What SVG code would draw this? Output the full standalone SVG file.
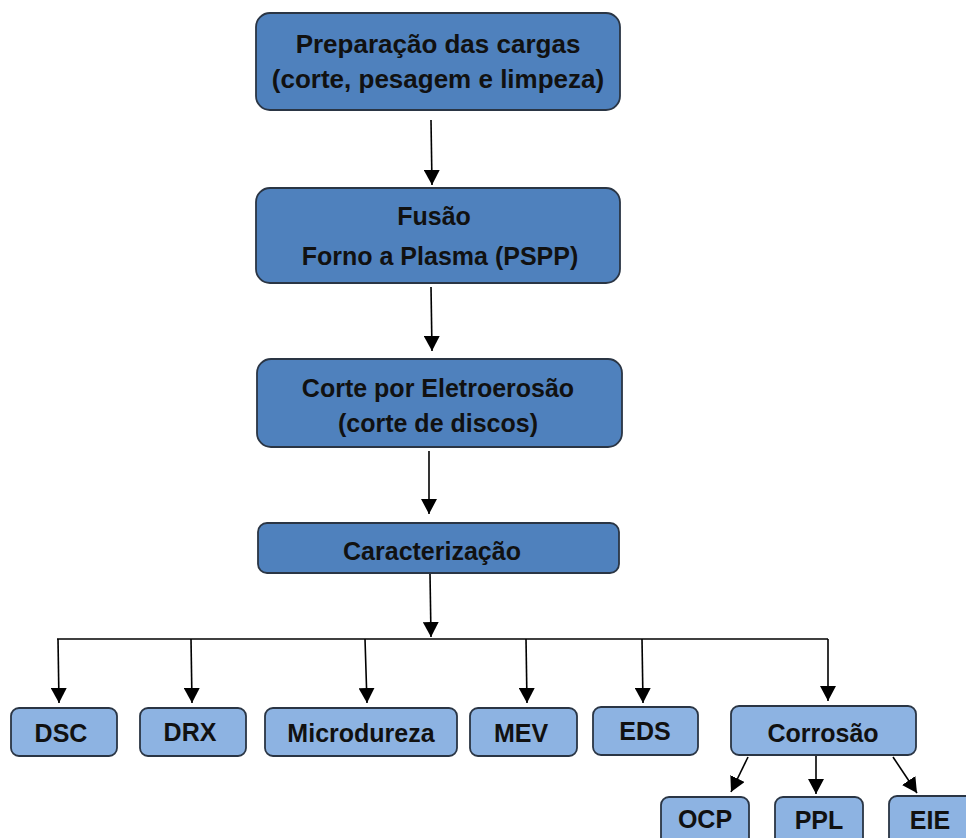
<svg xmlns="http://www.w3.org/2000/svg" width="966" height="838" viewBox="0 0 966 838">
<defs>
<style>
.dark{fill:#4F81BD;stroke:#2a3544;stroke-width:1.8}
.light{fill:#8DB3E2;stroke:#2a3544;stroke-width:1.8}
.t{font-family:"Liberation Sans",Arial,sans-serif;font-weight:bold;font-size:25px;fill:#111;text-anchor:middle}
.c{stroke:#000;stroke-width:1.6;fill:none}
.a{stroke:#000;stroke-width:1.6;fill:none;marker-end:url(#ah)}
</style>
<marker id="ah" viewBox="0 0 15 16" refX="15" refY="8" markerWidth="15" markerHeight="16" markerUnits="userSpaceOnUse" orient="auto">
<path d="M0,0 L15,8 L0,16 Z" fill="#000"/>
</marker>
</defs>
<rect width="966" height="838" fill="#fff"/>
<g id="connectors">
<line class="a" x1="431" y1="120" x2="432" y2="185"/>
<line class="a" x1="431" y1="287" x2="432" y2="351"/>
<line class="a" x1="429" y1="451" x2="429" y2="514"/>
<line class="a" x1="430" y1="574" x2="431" y2="637"/>
<line class="c" x1="57" y1="639" x2="828" y2="639"/>
<line class="a" x1="58" y1="639" x2="59" y2="703"/>
<line class="a" x1="191" y1="639" x2="192" y2="703"/>
<line class="a" x1="365" y1="639" x2="367" y2="703"/>
<line class="a" x1="526" y1="639" x2="527" y2="703"/>
<line class="a" x1="642" y1="639" x2="643" y2="703"/>
<line class="a" x1="828" y1="639" x2="828" y2="701"/>
<line class="a" x1="748" y1="757" x2="731" y2="792"/>
<line class="a" x1="816" y1="752" x2="816" y2="794"/>
<line class="a" x1="893" y1="757" x2="917" y2="793"/>
</g>
<g id="n1"><rect class="dark" x="256" y="13" width="364" height="97" rx="14"/>
<text class="t" x="438" y="53" style="font-size:26px">Preparação das cargas</text>
<text class="t" x="438" y="88" style="font-size:26px">(corte, pesagem e limpeza)</text></g>
<g id="n2"><rect class="dark" x="256" y="188" width="364" height="95" rx="14"/>
<text class="t" x="434" y="225">Fusão</text>
<text class="t" x="440" y="265">Forno a Plasma (PSPP)</text></g>
<g id="n3"><rect class="dark" x="257" y="359" width="365" height="88" rx="14"/>
<text class="t" x="438" y="397">Corte por Eletroerosão</text>
<text class="t" x="438" y="432">(corte de discos)</text></g>
<g id="n4"><rect class="dark" x="258" y="523" width="361" height="50" rx="9"/>
<text class="t" x="432" y="560">Caracterização</text></g>
<g id="n5"><rect class="light" x="11" y="708" width="106" height="48" rx="8"/>
<text class="t" x="61" y="742">DSC</text></g>
<g id="n6"><rect class="light" x="140" y="708" width="106" height="48" rx="8"/>
<text class="t" x="190" y="741">DRX</text></g>
<g id="n7"><rect class="light" x="265" y="708" width="192" height="48" rx="8"/>
<text class="t" x="361" y="742">Microdureza</text></g>
<g id="n8"><rect class="light" x="470" y="708" width="107" height="48" rx="8"/>
<text class="t" x="521" y="742">MEV</text></g>
<g id="n9"><rect class="light" x="593" y="707" width="105" height="48" rx="8"/>
<text class="t" x="645" y="740">EDS</text></g>
<g id="n10"><rect class="light" x="731" y="706" width="185" height="49" rx="8"/>
<text class="t" x="823" y="742">Corrosão</text></g>
<g id="n11"><rect class="light" x="661" y="797" width="88" height="50" rx="8"/>
<text class="t" x="705" y="828">OCP</text></g>
<g id="n12"><rect class="light" x="775" y="797" width="88" height="50" rx="8"/>
<text class="t" x="819" y="829">PPL</text></g>
<g id="n13"><rect class="light" x="889" y="796" width="88" height="50" rx="8"/>
<text class="t" x="930" y="829">EIE</text></g>
</svg>
